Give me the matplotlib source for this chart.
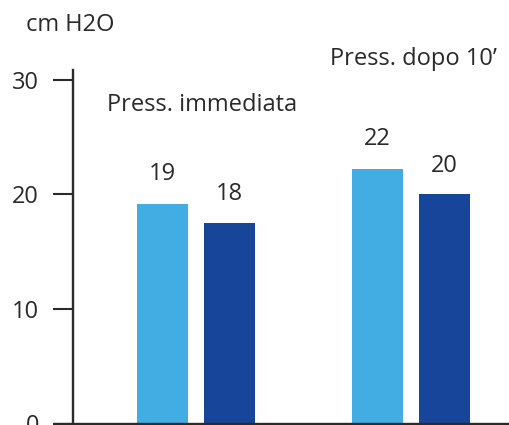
import matplotlib
matplotlib.use("Agg")
import matplotlib.pyplot as plt
import numpy as np

groups = ["Press. immediata", "Press. dopo 10\u2019"]
serie_a = [19.2, 22.2]   # light blue
serie_b = [17.5, 20.0]   # dark blue
labels_a = ["19", "22"]
labels_b = ["18", "20"]
yticks = [0, 10, 20, 30]

light = "#42ade2"
dark = "#17459a"
ink = "#2a2a2a"

plt.rcParams['font.family'] = ['Open Sans', 'DejaVu Sans']
fs = 17

fig = plt.figure(figsize=(5.09, 4.25), dpi=100)
ax = fig.add_axes([55 / 509, 1.5 / 425, 454 / 509, (425 - 70 - 1.5) / 425])

x = np.arange(len(groups))
off = 33.5 / 215
w = 51 / 215
ba = ax.bar(x - off, serie_a, w, color=light)
bb = ax.bar(x + off, serie_b, w, color=dark)
ax.bar_label(ba, labels=labels_a, padding=13, fontsize=fs, color=ink)
ax.bar_label(bb, labels=labels_b, padding=12, fontsize=fs, color=ink)

ax.set_xlim(-141 / 215, 313 / 215)
ax.set_ylim(0, 30.87)

ax.text(0.03, 27.8, groups[0], ha='center', va='center', fontsize=fs, color=ink)
ax.text(1.01, 31.8, groups[1], ha='center', va='center', fontsize=fs, color=ink, clip_on=False)
fig.text(26 / 509, 1 - 25 / 425, "cm H2O", ha='left', va='center', fontsize=fs, color=ink)

for s in ['top', 'right']:
    ax.spines[s].set_visible(False)
ax.spines['left'].set_position(('axes', 18 / 454))
for s in ['left', 'bottom']:
    ax.spines[s].set_linewidth(1.7)
    ax.spines[s].set_color(ink)

ax.set_xticks([])
ax.set_yticks(yticks)
ax.tick_params(axis='y', length=14.4, width=1.5, color=ink, labelsize=fs,
               labelcolor=ink, pad=10)

fig.savefig("out.png", dpi=100)
